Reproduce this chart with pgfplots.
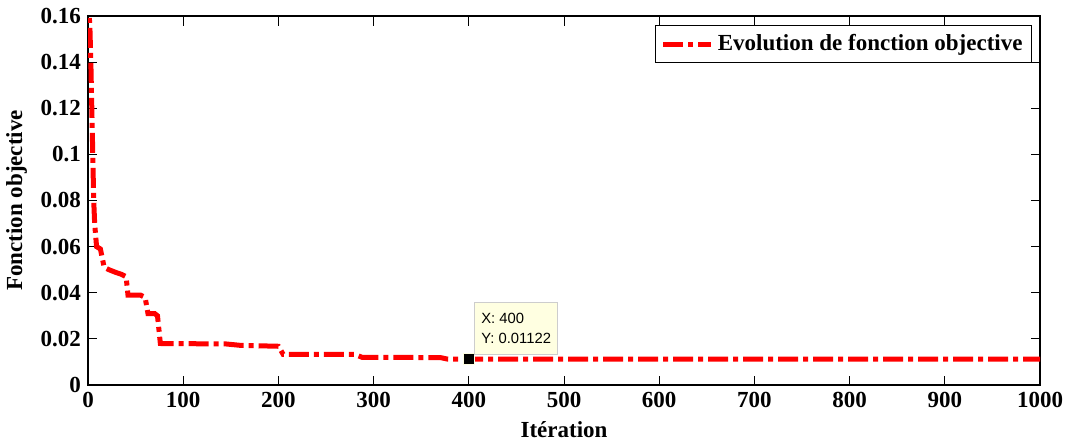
\documentclass[border=0pt]{standalone}
\usepackage{pgfplots}
\pgfplotsset{compat=1.18}
\usepackage{fontspec}
\setmainfont{Liberation Serif}
\newfontfamily\tipfont{Liberation Sans}
\definecolor{tipbg}{RGB}{255,255,225}
\definecolor{tipedge}{RGB}{205,205,205}

\begin{document}
\begin{tikzpicture}
\begin{axis}[
  name=ax,
  scale only axis,
  width=476pt, height=184.5pt,
  xmin=0, xmax=1000, ymin=0, ymax=0.16,
  xtick={0,100,...,1000},
  ytick={0,0.02,0.04,0.06,0.08,0.1,0.12,0.14,0.16},
  scaled y ticks=false,
  tick align=inside,
  major tick length=4.75pt,
  tick style={black, line width=0.5pt},
  axis line style={line width=0.6pt},
  /pgf/number format/assume math mode=true,
  /pgf/number format/1000 sep={},
  yticklabel style={/pgf/number format/fixed},
  ticklabel style={font=\fontsize{11.5}{13}\selectfont\bfseries},
  label style={font=\fontsize{11.5}{13}\selectfont\bfseries},
  xlabel={Itération},
  ylabel={Fonction objective},
  legend style={at={(1,1)}, anchor=north east, xshift=-4pt, yshift=-4.5pt,
    draw=black, line width=0.5pt, inner sep=2.5pt,
    font=\fontsize{11.5}{13}\selectfont\bfseries},
  legend image code/.code={\draw[#1, line width=2.5pt] (0pt,0pt) -- (24pt,0pt);},
]
\addplot[red, line width=2.5pt, dash pattern=on 10pt off 2.5pt on 2.5pt off 2.5pt] coordinates {
  (0,0.17) (2,0.155) (3,0.14) (4,0.12) (5,0.10) (6,0.08) (7,0.07) (9,0.06)
  (13,0.059) (15,0.055) (17,0.051) (22,0.050) (28,0.049) (35,0.048) (40,0.047)
  (42,0.039) (55,0.039) (60,0.038) (63,0.031) (66,0.031) (70,0.031) (73,0.030)
  (76,0.018) (145,0.0178) (160,0.0172) (180,0.017) (200,0.0168) (205,0.0133)
  (280,0.0133) (288,0.0120) (370,0.0119) (378,0.01122) (1000,0.01122)
};
\addlegendentry{Evolution de fonction objective}
\addplot[only marks, mark=square*, mark size=2.8pt,
  mark options={fill=black, draw=tipbg, line width=0.7pt},
  forget plot,
  nodes near coords={X: 400\\Y: 0.01122},
  every node near coord/.append style={anchor=south west, xshift=2.5pt, yshift=2pt,
    fill=tipbg, draw=tipedge, line width=0.5pt, align=left, text=black,
    font=\tipfont\fontsize{7.4}{10}\selectfont, inner xsep=3.5pt, inner ysep=5.5pt}
] coordinates {(400,0.01122)};
\end{axis}
\pgfresetboundingbox
\path ([shift={(-44pt,-28pt)}]ax.south west) rectangle ([shift={(14pt,8pt)}]ax.north east);
\end{tikzpicture}
\end{document}
